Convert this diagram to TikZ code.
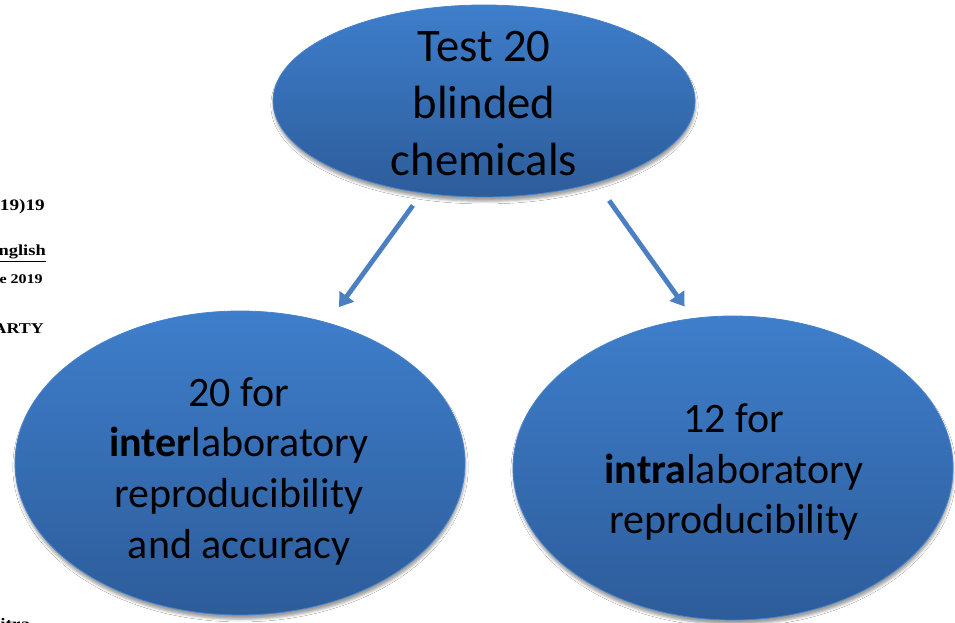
\documentclass[tikz,border=0pt]{standalone}
\usepackage{fontspec}
\setmainfont{Carlito}
\newfontfamily\docserif{Liberation Serif}
\usetikzlibrary{shapes.geometric,arrows.meta,shadows.blur}

\definecolor{bubbletop}{HTML}{3E7ECB}
\definecolor{bubblebot}{HTML}{2D5C9A}
\definecolor{bubbleline}{HTML}{4683CC}
\definecolor{arrowblue}{HTML}{4A7FC2}

% wide bold serif for the printed page lying behind the diagram
\newcommand{\pagetext}[2]{{\docserif\bfseries\fontsize{#1}{#1}\selectfont\scalebox{1.2}[1]{#2}}}

\tikzset{
  bubble/.style={ellipse, inner sep=0pt, draw=bubbleline, line width=0.6pt,
    top color=bubbletop, bottom color=bubblebot,
    blur shadow={shadow xshift=0.4pt, shadow yshift=-3.2pt,
      shadow blur radius=2pt, shadow opacity=38}},
  bigtext/.style={align=center, text=black,
    font=\fontsize{35}{42.5}\selectfont},
  midtext/.style={align=center, text=black,
    font=\fontsize{31.5}{38}\selectfont},
  arr/.style={draw=arrowblue, line width=3.6pt,
    -{Triangle[width=13pt,length=10pt]}},
  docline/.style={anchor=base east, inner sep=0pt, text=black},
}

\begin{document}
\begin{tikzpicture}[x=0.75pt, y=-0.75pt]
  \useasboundingbox (0,0) rectangle (955,623);
  \fill[white] (0,0) rectangle (955,623);

  % fragments of the page underneath
  \node[docline] (d1) at (45,211) {\pagetext{12}{19)19}};
  \node[docline] (d2) at (46,256) {\pagetext{11.5}{\underline{nglish}}};
  \node[docline] (d3) at (43,284) {\pagetext{10}{e 2019}};
  \node[docline] (d4) at (44,333) {\pagetext{11.2}{ARTY}};
  \node[docline, anchor=base west] (d5) at (0,629) {\pagetext{12}{itra}};

  % the three ellipses
  \node[bubble, minimum width=316.5pt, minimum height=144pt] (top) at (484,101) {};
  \node[bubble, minimum width=337.5pt, minimum height=228pt] (left) at (240,463) {};
  \node[bubble, minimum width=330pt, minimum height=228pt] (right) at (733,468) {};

  % their texts
  \node[bigtext] (ttop) at (484,103.5) {Test 20\\blinded\\chemicals};
  \node[midtext] (tleft) at (239,471) {20 for\\\textbf{inter}laboratory\\reproducibility\\and accuracy};
  \node[midtext] (tright) at (734,472) {12 for\\\textbf{intra}laboratory\\reproducibility};

  % connectors
  \draw[arr, shorten <=11.4pt, shorten >=14.4pt] (top.236) -- (left.58.35);
  \draw[arr, shorten <=16.5pt, shorten >=10.7pt] (top.324.8) -- (right.105.4);
\end{tikzpicture}
\end{document}
